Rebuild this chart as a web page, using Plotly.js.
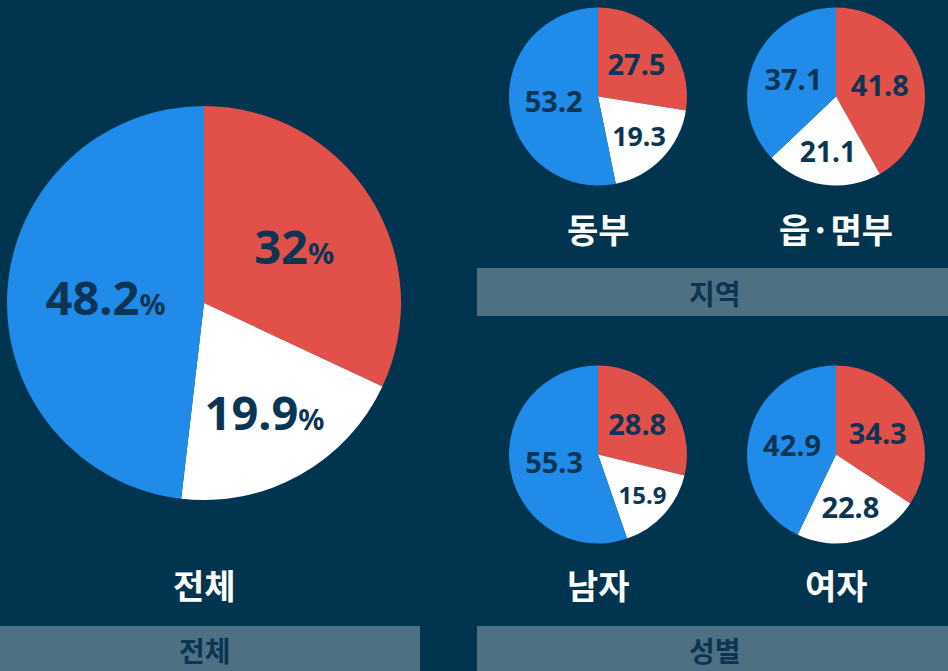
<!DOCTYPE html>
<html>
<head>
<meta charset="utf-8">
<script src="https://cdn.plot.ly/plotly-3.0.1.min.js"></script>
<style>
  html, body { margin: 0; padding: 0; background: #00344f; }
  #chart { width: 948px; height: 671px; }
</style>
</head>
<body>
<div id="chart"></div>
<script>
// 응답 비율 (빨강, 흰색, 파랑 순)
const labels = ['A', 'B', 'C'];
const colors = ['#e2504a', '#ffffff', '#218be9'];

const total = [32, 19.9, 48.2];
const dongbu = [27.5, 19.3, 53.2];
const eupmyeon = [41.8, 21.1, 37.1];
const male = [28.8, 15.9, 55.3];
const female = [34.3, 22.8, 42.9];

const pieNames = ['전체', '동부', '읍·면부', '남자', '여자'];
const groupNames = ['전체', '지역', '성별'];

const textColor = '#0b3552';
const fontFam = 'Noto Sans, Noto Sans CJK KR, sans-serif';

function pie(values, domain, size, template) {
  return {
    type: 'pie',
    values: values,
    labels: labels,
    sort: false,
    direction: 'clockwise',
    rotation: 0,
    marker: { colors: colors, line: { width: 0 } },
    textinfo: 'value',
    texttemplate: template,
    textposition: 'inside',
    insidetextorientation: 'horizontal',
    textfont: { family: fontFam, size: size, color: textColor, weight: 'bold' },
    hoverinfo: 'none',
    domain: domain,
    showlegend: false
  };
}

const W = 948, H = 671;
function dom(x0, x1, y0, y1) {
  return { x: [x0 / W, x1 / W], y: [1 - y1 / H, 1 - y0 / H] };
}

const data = [
  pie(total, dom(7, 401, 106, 500), 47, "%{value}<span style='font-size:29px'>%</span>"),
  pie(dongbu, dom(509, 687, 7, 186), 29, '%{value}'),
  pie(eupmyeon, dom(747, 925, 7, 186), 29, '%{value}'),
  pie(male, dom(509, 687, 365, 544), 29, '%{value}'),
  pie(female, dom(747, 925, 365, 544), 29, '%{value}')
];

const barColor = '#4d7083';
const shapes = [
  { type: 'rect', xref: 'paper', yref: 'paper', x0: 0, x1: 420 / W, y0: 0, y1: 1 - 626 / H, fillcolor: barColor, line: { width: 0 } },
  { type: 'rect', xref: 'paper', yref: 'paper', x0: 477 / W, x1: 1, y0: 1 - 316 / H, y1: 1 - 268 / H, fillcolor: barColor, line: { width: 0 } },
  { type: 'rect', xref: 'paper', yref: 'paper', x0: 477 / W, x1: 1, y0: 0, y1: 1 - 626 / H, fillcolor: barColor, line: { width: 0 } }
];

function note(text, x, y, size, color) {
  return {
    text: '<b>' + text + '</b>', xref: 'paper', yref: 'paper',
    x: x / W, y: 1 - y / H, showarrow: false,
    xanchor: 'center', yanchor: 'middle',
    font: { family: 'Noto Sans CJK KR, sans-serif', size: size, color: color }
  };
}

const annotations = [
  note(pieNames[0], 204, 584, 34, '#ffffff'),
  note(pieNames[1], 598, 228, 34, '#ffffff'),
  note(pieNames[2], 836, 228, 34, '#ffffff'),
  note(pieNames[3], 598, 584, 34, '#ffffff'),
  note(pieNames[4], 836, 584, 34, '#ffffff'),
  note(groupNames[0], 205, 650, 28, textColor),
  note(groupNames[1], 715, 293, 28, textColor),
  note(groupNames[2], 715, 650, 28, textColor)
];

const layout = {
  width: W,
  height: H,
  margin: { l: 0, r: 0, t: 0, b: 0 },
  paper_bgcolor: '#00344f',
  plot_bgcolor: '#00344f',
  shapes: shapes,
  annotations: annotations,
  showlegend: false
};

Plotly.newPlot('chart', data, layout, { displayModeBar: false, staticPlot: true });
</script>
</body>
</html>
